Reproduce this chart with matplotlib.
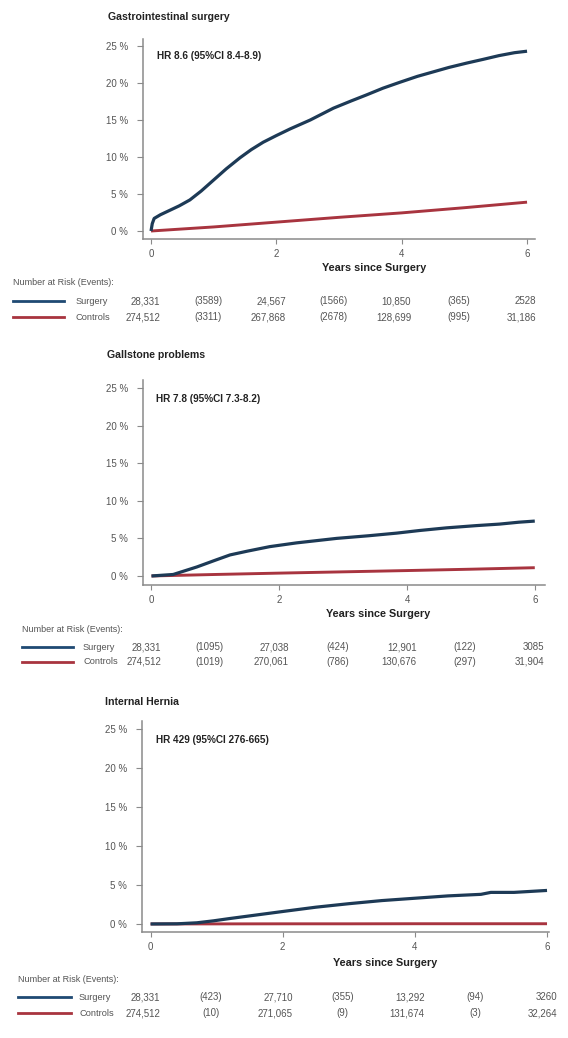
import matplotlib
matplotlib.use("Agg")
import matplotlib.pyplot as plt
from matplotlib.transforms import blended_transform_factory

plt.rcParams['font.family'] = ['Liberation Sans', 'DejaVu Sans']

# ---------------- data ----------------
titles = ["Gastrointestinal surgery", "Gallstone problems", "Internal Hernia"]
hr_texts = ["HR 8.6 (95%CI 8.4-8.9)", "HR 7.8 (95%CI 7.3-8.2)", "HR 429 (95%CI 276-665)"]

t_gi = [0, 0.02, 0.05, 0.15, 0.3, 0.45, 0.62, 0.8, 1.0, 1.2, 1.42, 1.6, 1.79, 2.0, 2.22,
        2.54, 2.91, 3.2, 3.44, 3.7, 3.97, 4.25, 4.5, 4.75, 5.04, 5.3, 5.55, 5.8, 6.0]
surg_gi = [0, 1.0, 1.7, 2.2, 2.8, 3.4, 4.2, 5.4, 6.9, 8.4, 9.9, 11.0, 12.0, 12.9, 13.8,
           15.0, 16.6, 17.6, 18.4, 19.3, 20.1, 20.9, 21.5, 22.1, 22.7, 23.2, 23.7, 24.1, 24.3]
t_ctrl = [0, 1, 2, 3, 4, 5, 6]
ctrl_gi = [0, 0.55, 1.2, 1.85, 2.45, 3.15, 3.9]

t_gs = [0, 0.34, 0.71, 1.0, 1.23, 1.5, 1.85, 2.27, 2.9, 3.4, 3.84, 4.2, 4.62, 5.09, 5.45,
        5.75, 6.0]
surg_gs = [0, 0.2, 1.2, 2.1, 2.8, 3.3, 3.9, 4.4, 5.0, 5.35, 5.7, 6.05, 6.4, 6.7, 6.9,
           7.15, 7.3]
ctrl_gs = [0, 0.2, 0.38, 0.55, 0.72, 0.9, 1.1]

t_ih = [0, 0.4, 0.7, 0.95, 1.2, 1.6, 2.0, 2.5, 3.0, 3.5, 4.0, 4.5, 5.0, 5.15, 5.5, 6.0]
surg_ih = [0, 0.02, 0.15, 0.4, 0.7, 1.15, 1.6, 2.15, 2.6, 3.0, 3.3, 3.6, 3.8, 4.05, 4.05, 4.3]
ctrl_ih = [0, 0.01, 0.02, 0.02, 0.03, 0.03, 0.03]

risk_times = [0, 2, 4, 6]
event_times = [0, 2, 4]
risk_surg = [["28,331", "24,567", "10,850", "2528"],
             ["28,331", "27,038", "12,901", "3085"],
             ["28,331", "27,710", "13,292", "3260"]]
risk_ctrl = [["274,512", "267,868", "128,699", "31,186"],
             ["274,512", "270,061", "130,676", "31,904"],
             ["274,512", "271,065", "131,674", "32,264"]]
events_surg = [["(3589)", "(1566)", "(365)"],
               ["(1095)", "(424)", "(122)"],
               ["(423)", "(355)", "(94)"]]
events_ctrl = [["(3311)", "(2678)", "(995)"],
               ["(1019)", "(786)", "(297)"],
               ["(10)", "(9)", "(3)"]]

yticks = [0, 5, 10, 15, 20, 25]
ytick_labels = ["0 %", "5 %", "10 %", "15 %", "20 %", "25 %"]
xticks = [0, 2, 4, 6]

surg_t = [t_gi, t_gs, t_ih]
surg_v = [surg_gi, surg_gs, surg_ih]
ctrl_v = [ctrl_gi, ctrl_gs, ctrl_ih]

# ---------------- layout ----------------
W, H = 568, 1038
fig = plt.figure(figsize=(W / 100, H / 100), dpi=100)
fig.patch.set_facecolor("white")

BLUE = "#1d3a56"
RED = "#a8343f"
GRAY = "#555555"

# (left, right, top, bottom) of axes in px, xlim, ylim
panels = [
    dict(box=(143, 535, 39, 239), xlim=(-0.128, 6.127), ylim=(-1.08, 25.95),
         title=(108, 17), hr=(157, 56), xlab=(374, 268), nar=(13, 283),
         rows=(301, 317), leg=(13, 64, 76)),
    dict(box=(143, 545, 380, 585), xlim=(-0.133, 6.16), ylim=(-1.2, 26.06),
         title=(107, 355), hr=(156, 399), xlab=(378, 614), nar=(22, 630),
         rows=(647, 662), leg=(22, 73, 83)),
    dict(box=(142, 549, 721, 932), xlim=(-0.13, 6.03), ylim=(-1.03, 26.03),
         title=(105, 702), hr=(156, 740), xlab=(385, 963), nar=(18, 980),
         rows=(997, 1013), leg=(18, 71, 79)),
]


def fx(x):
    return x / W


def fy(y):
    return 1 - y / H


for i, p in enumerate(panels):
    l, r, t, b = p["box"]
    ax = fig.add_axes([fx(l), fy(b), (r - l) / W, (b - t) / H])
    ax.plot(t_ctrl, ctrl_v[i], color=RED, lw=2.1, solid_capstyle="butt", zorder=3)
    ax.plot(surg_t[i], surg_v[i], color=BLUE, lw=2.3, solid_capstyle="butt",
            solid_joinstyle="round", zorder=4)
    ax.set_xlim(*p["xlim"])
    ax.set_ylim(*p["ylim"])
    for s in ["top", "right"]:
        ax.spines[s].set_visible(False)
    for s in ["left", "bottom"]:
        ax.spines[s].set_color("#8a8a8a")
        ax.spines[s].set_linewidth(1.1)
    ax.set_yticks(yticks)
    ax.set_yticklabels(ytick_labels)
    ax.set_xticks(xticks)
    ax.tick_params(axis="both", colors="#8a8a8a", labelcolor=GRAY, labelsize=7,
                   width=0.8, direction="out")
    ax.tick_params(axis="y", length=4.3, pad=6.5)
    ax.tick_params(axis="x", length=3.6, pad=3.5)

    fig.text(fx(p["title"][0]), fy(p["title"][1]), titles[i], fontsize=7.6,
             fontweight="bold", color="#222222", ha="left", va="center")
    fig.text(fx(p["hr"][0]), fy(p["hr"][1]), hr_texts[i], fontsize=7.2,
             fontweight="bold", color="#222222", ha="left", va="center")
    fig.text(fx(p["xlab"][0]), fy(p["xlab"][1]), "Years since Surgery", fontsize=7.8,
             fontweight="bold", color="#222222", ha="center", va="center")
    fig.text(fx(p["nar"][0]), fy(p["nar"][1]), "Number at Risk (Events):", fontsize=6.5,
             color=GRAY, ha="left", va="center")

    x0, x1, xl = p["leg"]
    ys, yc = p["rows"]
    fig.add_artist(plt.Line2D([fx(x0), fx(x1)], [fy(ys), fy(ys)], color="#1f4a73", lw=2.0,
                              transform=fig.transFigure))
    fig.add_artist(plt.Line2D([fx(x0), fx(x1)], [fy(yc), fy(yc)], color=RED, lw=2.0,
                              transform=fig.transFigure))
    fig.text(fx(xl), fy(ys), "Surgery", fontsize=6.7, color=GRAY, ha="left", va="center")
    fig.text(fx(xl), fy(yc), "Controls", fontsize=6.7, color=GRAY, ha="left", va="center")

    tr = blended_transform_factory(ax.transData, fig.transFigure)
    for k, tt in enumerate(risk_times):
        ax.text(tt + 0.15, fy(ys), risk_surg[i][k], transform=tr, fontsize=7, color=GRAY,
                ha="right", va="center", clip_on=False)
        ax.text(tt + 0.15, fy(yc), risk_ctrl[i][k], transform=tr, fontsize=7, color=GRAY,
                ha="right", va="center", clip_on=False)
    for k, tt in enumerate(event_times):
        ax.text(tt + 0.91, fy(ys), events_surg[i][k], transform=tr, fontsize=7, color=GRAY,
                ha="center", va="center", clip_on=False)
        ax.text(tt + 0.91, fy(yc), events_ctrl[i][k], transform=tr, fontsize=7, color=GRAY,
                ha="center", va="center", clip_on=False)

fig.savefig("out.png", dpi=100, facecolor="white")
